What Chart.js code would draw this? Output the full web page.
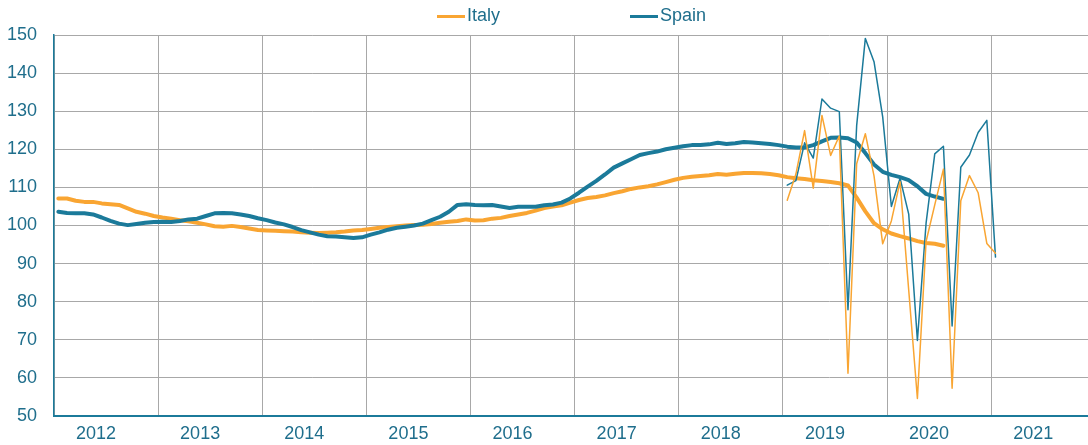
<!DOCTYPE html>
<html>
<head>
<meta charset="utf-8">
<script src="https://cdn.jsdelivr.net/npm/chart.js@4.4.0/dist/chart.umd.min.js"></script>
<style>
  body { margin: 0; background: #fff; }
  #wrap { position: relative; width: 1088px; height: 445px; }
  #legend {
    position: absolute; left: 437px; top: 5px; height: 30px; line-height: 30px;
    font: 18px "Liberation Sans", Arial, sans-serif; color: #1f6e8c; white-space: nowrap;
  }
  #legend .item { display: inline-block; }
  #legend .item + .item { margin-left: 130px; }
  #legend i { display: inline-block; width: 28px; height: 3px; margin-right: 2px; vertical-align: middle; }
</style>
</head>
<body>
<div id="wrap">
  <div id="legend"></div>
  <canvas id="chart" width="1088" height="445"></canvas>
</div>
<script>
const years = [2012, 2013, 2014, 2015, 2016, 2017, 2018, 2019, 2020, 2021];
const seriesNames = ["Italy", "Spain"];

// trend, monthly from Jan 2012
const trendStart = 2012;
const italyTrend = [
  107.1, 107.1, 106.5, 106.2, 106.2, 105.8, 105.6, 105.4, 104.5, 103.6, 103.1, 102.5,
  102.1, 101.8, 101.4, 101.1, 100.7, 100.3, 99.8, 99.7, 99.9, 99.6, 99.2, 98.8,
  98.7, 98.6, 98.5, 98.4, 98.2, 98.1, 98.0, 98.1, 98.2, 98.4, 98.7, 98.8,
  99.1, 99.4, 99.6, 99.8, 100.0, 100.1, 100.2, 100.4, 100.7, 101.0, 101.2, 101.6,
  101.3, 101.4, 101.8, 102.0, 102.5, 102.9, 103.3, 103.9, 104.6, 105.0, 105.3, 106.0,
  106.7, 107.2, 107.5, 107.9, 108.5, 109.0, 109.6, 110.0, 110.3, 110.8, 111.4, 112.0,
  112.5, 112.8, 113.0, 113.2, 113.5, 113.3, 113.6, 113.8, 113.8, 113.7, 113.5, 113.2,
  112.7, 112.4, 112.2, 111.9, 111.7, 111.4, 111.1, 110.5, 107.3, 103.7, 100.6, 99.0,
  97.9, 97.2, 96.6, 95.9, 95.4, 95.2, 94.7
];
const spainTrend = [
  103.6, 103.3, 103.2, 103.2, 102.9, 102.1, 101.2, 100.5, 100.1, 100.4, 100.7, 100.9,
  101.0, 100.9, 101.2, 101.6, 101.8, 102.5, 103.2, 103.3, 103.2, 102.9, 102.5, 101.9,
  101.4, 100.8, 100.3, 99.6, 98.8, 98.2, 97.6, 97.2, 97.1, 96.9, 96.7, 96.9,
  97.6, 98.2, 98.9, 99.4, 99.7, 100.0, 100.5, 101.4, 102.3, 103.6, 105.4, 105.6,
  105.4, 105.3, 105.4, 105.0, 104.6, 104.9, 104.9, 104.9, 105.3, 105.5, 106.0, 107.1,
  108.6, 110.2, 111.7, 113.4, 115.2, 116.3, 117.4, 118.5, 119.0, 119.4, 120.0, 120.4,
  120.8, 121.1, 121.1, 121.3, 121.7, 121.4, 121.6, 121.9, 121.8, 121.6, 121.4, 121.1,
  120.7, 120.5, 120.5, 121.1, 122.1, 123.0, 123.1, 122.9, 121.8, 119.0, 116.0, 114.1,
  113.3, 112.7, 111.9, 110.3, 108.3, 107.6, 107.0
];

// raw monthly values from Jan 2019
const monthlyStart = 2019;
const italyMonthly = [
  106.6, 113.5, 124.9, 109.8, 128.9, 118.4, 123.5, 61.2, 116.2, 124.1, 113.0, 95.2,
  101.2, 111.5, 83.0, 54.6, 95.8, 105.4, 114.8, 57.3, 106.5, 113.1, 108.6, 95.3,
  92.7
];
const spainMonthly = [
  110.6, 111.8, 121.7, 117.7, 133.2, 130.8, 129.9, 77.9, 126.2, 149.1, 143.0, 128.5,
  105.0, 112.4, 103.0, 69.8, 100.6, 118.8, 120.8, 73.6, 115.3, 118.5, 124.4, 127.6,
  91.7
];

const orange = "#f9a532";
const teal = "#1b7a9a";
const textColor = "#1f6e8c";
const gridColor = "#a8a8a8";
const font = { family: "'Liberation Sans', Arial, sans-serif", size: 18 };

function toPoints(values, startYear) {
  return values.map((v, i) => ({ x: startYear + (i + 0.5) / 12, y: v }));
}

const chart = new Chart(document.getElementById("chart"), {
  type: "line",
  data: {
    datasets: [
      { label: seriesNames[0], data: toPoints(italyMonthly, monthlyStart), borderColor: orange, borderWidth: 1.5, order: 0 },
      { label: seriesNames[1], data: toPoints(spainMonthly, monthlyStart), borderColor: teal, borderWidth: 1.5, order: 0 },
      { label: seriesNames[0], data: toPoints(italyTrend, trendStart), borderColor: orange, borderWidth: 4, order: 2 },
      { label: seriesNames[1], data: toPoints(spainTrend, trendStart), borderColor: teal, borderWidth: 4, order: 1 }
    ]
  },
  options: {
    responsive: false,
    animation: false,
    devicePixelRatio: 1,
    layout: { padding: { top: 35, right: 0, left: 0, bottom: 0 } },
    elements: {
      point: { radius: 0 },
      line: { tension: 0, fill: false, borderCapStyle: "round", borderJoinStyle: "round" }
    },
    plugins: { legend: { display: false }, tooltip: { enabled: false } },
    scales: {
      x: {
        type: "linear",
        min: 2012,
        max: 2021.93,
        afterBuildTicks: s => { s.ticks = years.map(v => ({ value: v })); },
        afterFit: s => { s.height = 29; },
        ticks: {
          color: textColor, font, padding: 7, labelOffset: 42,
          maxRotation: 0, autoSkip: false, callback: v => String(v)
        },
        grid: { color: gridColor, lineWidth: 1, drawTicks: false },
        border: { color: teal, width: 2 }
      },
      y: {
        min: 50,
        max: 150,
        afterFit: s => { s.width = 54; },
        ticks: { stepSize: 10, color: textColor, font, padding: 17 },
        grid: { color: gridColor, lineWidth: 1, drawTicks: false },
        border: { color: teal, width: 1.5 }
      }
    }
  }
});

// legend built from the series names and colours
const legend = document.getElementById("legend");
[[seriesNames[0], orange], [seriesNames[1], teal]].forEach(([name, color]) => {
  const item = document.createElement("span");
  item.className = "item";
  const mark = document.createElement("i");
  mark.style.background = color;
  item.appendChild(mark);
  item.appendChild(document.createTextNode(name));
  legend.appendChild(item);
});
</script>
</body>
</html>
